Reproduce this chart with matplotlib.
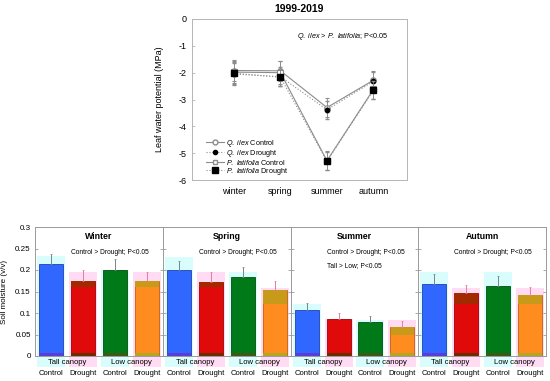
import matplotlib
matplotlib.use("Agg")
import matplotlib.pyplot as plt
from matplotlib.lines import Line2D
import numpy as np

plt.rcParams['font.family'] = ['Liberation Sans', 'DejaVu Sans']
plt.rcParams['mathtext.fontset'] = 'custom'
plt.rcParams['mathtext.rm'] = 'Liberation Sans'
plt.rcParams['mathtext.it'] = 'Liberation Sans:italic'

# ---------------- top panel data ----------------
seasons_top = ["winter", "spring", "summer", "autumn"]
qi_control = [-1.92, -1.93, -3.30, -2.28]
qi_drought = [-2.05, -2.15, -3.38, -2.32]
pl_control = [-1.98, -2.00, -5.28, -2.62]
pl_drought = [-2.02, -2.17, -5.30, -2.65]
err_qi_c = [0.38, 0.38, 0.35, 0.35]
err_qi_d = [0.40, 0.35, 0.33, 0.33]
err_pl_c = [0.42, 0.42, 0.35, 0.35]
err_pl_d = [0.40, 0.32, 0.33, 0.33]

# ---------------- bottom panel data ----------------
panel_titles = ["Winter", "Spring", "Summer", "Autumn"]
group_labels = ["Tall canopy", "Low canopy"]
bar_labels = ["Control", "Drought", "Control", "Drought"]
moist_winter = [0.213, 0.175, 0.200, 0.174]
moist_spring = [0.199, 0.172, 0.183, 0.153]
moist_summer = [0.107, 0.085, 0.079, 0.068]
moist_autumn = [0.168, 0.146, 0.163, 0.142]
err_winter = [0.024, 0.024, 0.025, 0.021]
err_spring = [0.022, 0.023, 0.024, 0.022]
err_summer = [0.017, 0.016, 0.014, 0.014]
err_autumn = [0.022, 0.019, 0.022, 0.019]
band_winter = [None, 0.160, None, 0.160]
band_spring = [None, 0.160, None, 0.122]
band_summer = [None, None, None, 0.048]
band_autumn = [None, 0.121, None, 0.121]
glow_winter = [0.233, 0.196, 0.200, 0.196]
glow_spring = [0.231, 0.196, 0.196, 0.157]
glow_summer = [0.120, 0.085, 0.083, 0.083]
glow_autumn = [0.195, 0.157, 0.195, 0.157]
stats_lines = [["Control > Drought; P<0.05"],
               ["Control > Drought; P<0.05"],
               ["Control > Drought; P<0.05", "Tall > Low; P<0.05"],
               ["Control > Drought; P<0.05"]]

moist = [moist_winter, moist_spring, moist_summer, moist_autumn]
errs = [err_winter, err_spring, err_summer, err_autumn]
bands = [band_winter, band_spring, band_summer, band_autumn]
glows = [glow_winter, glow_spring, glow_summer, glow_autumn]

fig = plt.figure(figsize=(5.5, 3.81), dpi=100)
W, H = 550, 381

def ax_at(l, t, r, b):
    return fig.add_axes([l / W, 1 - b / H, (r - l) / W, (b - t) / H])

# ---------------- top chart ----------------
ax = ax_at(192, 19, 407, 180)
x = np.array([1, 2, 3, 4])
gray = '#8c8c8c'
ax.errorbar(x, qi_control, yerr=err_qi_c, color=gray, lw=0.8, ls='-', marker='o', ms=4,
            mfc='white', mec=gray, mew=0.8, capsize=1.5, elinewidth=0.6, zorder=3)
ax.errorbar(x, qi_drought, yerr=err_qi_d, color=gray, lw=0.8, ls=':', marker='o', ms=3.2,
            mfc='black', mec='black', capsize=1.5, elinewidth=0.6, zorder=4)
ax.errorbar(x, pl_control, yerr=err_pl_c, color=gray, lw=0.8, ls='-', marker='s', ms=4,
            mfc='white', mec=gray, mew=0.8, capsize=1.5, elinewidth=0.6, zorder=3)
ax.errorbar(x, pl_drought, yerr=err_pl_d, color=gray, lw=0.8, ls=':', marker='s', ms=4.5,
            mfc='black', mec='black', capsize=1.5, elinewidth=0.6, zorder=5)
ax.set_xlim(0.1, 4.72)
ax.set_ylim(-6, 0)
ax.set_yticks([0, -1, -2, -3, -4, -5, -6])
ax.set_yticklabels(["0", "-1", "-2", "-3", "-4", "-5", "-6"])
ax.set_xticks(x)
ax.set_xticklabels(seasons_top)
ax.tick_params(axis='x', length=0, pad=5, labelsize=6.5)
ax.tick_params(axis='y', direction='in', length=2.5, width=0.5, color='#aaaaaa',
               labelsize=6.5, pad=4)
for s in ax.spines.values():
    s.set_color('#b5b5b5')
    s.set_linewidth(0.7)
ax.set_ylabel("Leaf water potential (MPa)", fontsize=6.5, labelpad=10)
ax.set_title("1999-2019", fontsize=7.5, fontweight='bold', pad=5)
ax.text(0.49, 0.89, r"$\it{Q.\ ilex}$ > $\it{P.\ latifolia}$; P<0.05",
        transform=ax.transAxes, fontsize=5.2, ha='left', va='center')
handles = [
    Line2D([], [], color=gray, lw=0.8, ls='-', marker='o', ms=3.5, mfc='white', mec=gray),
    Line2D([], [], color=gray, lw=0.8, ls=':', marker='o', ms=3, mfc='black', mec='black'),
    Line2D([], [], color=gray, lw=0.8, ls='-', marker='s', ms=3.5, mfc='white', mec=gray),
    Line2D([], [], color=gray, lw=0.8, ls=':', marker='s', ms=4, mfc='black', mec='black'),
]
labels = [r"$\it{Q.\ ilex}$ Control", r"$\it{Q.\ ilex}$ Drought",
          r"$\it{P.\ latifolia}$ Control", r"$\it{P.\ latifolia}$ Drought"]
ax.legend(handles, labels, loc='upper left', bbox_to_anchor=(0.065, 0.262), frameon=False,
          fontsize=5.2, handlelength=2.5, handletextpad=0.3, borderpad=0, labelspacing=-0.15,
          borderaxespad=0)

# ---------------- bottom chart ----------------
main_cols = ['#3068ff', '#e00a0a', '#007a18', '#ff8c1e']
edge_cols = ['#2040b0', '#a00000', '#005010', '#c06010']
base_cols = ['#5a3cd8', '#6b2d00', '#3c5a14', '#b4a620']
band_cols = [None, '#a22a00', None, '#c89a1a']
glow_cols = ['#d9fdfd', '#ffdcf4', '#d9fdfd', '#ffdcf4']
err_cols = ['#708888', '#e87aa0', '#708888', '#e87aa0']

edges = [35, 163, 291, 418, 546]
xb = np.array([0.5, 1.5, 2.5, 3.5])
bw = 0.75
for i in range(4):
    a = ax_at(edges[i], 227, edges[i + 1], 356)
    a.set_xlim(0, 4)
    a.set_ylim(0, 0.3)
    vals = moist[i]
    for j in range(4):
        # glow box behind bar (extends into label row)
        a.bar(xb[j], glows[i][j] + 0.0256, bottom=-0.0256, width=0.88, color=glow_cols[j],
              zorder=1, clip_on=False, lw=0)
        a.bar(xb[j], vals[j], width=bw, color=main_cols[j], edgecolor=edge_cols[j],
              lw=0.6, zorder=2)
        a.bar(xb[j], 0.007, width=bw, color=base_cols[j], lw=0, zorder=3)
        if bands[i][j] is not None:
            a.bar(xb[j], vals[j] - bands[i][j], bottom=bands[i][j], width=bw - 0.02,
                  color=band_cols[j], lw=0, zorder=3)
        a.errorbar(xb[j], vals[j], yerr=[[0], [errs[i][j]]], color=err_cols[j], lw=0,
                   elinewidth=0.7, capsize=1, capthick=0.5, zorder=4)
    a.set_xticks([])
    a.set_yticks(np.arange(0, 0.301, 0.05))
    a.tick_params(axis='y', direction='in', length=2.5, width=0.5, color='#888888',
                  left=True, right=True, labelsize=5.8, pad=3)
    if i == 0:
        a.set_yticklabels(["0", "0.05", "0.1", "0.15", "0.2", "0.25", "0.3"])
        a.set_ylabel("Soil moisture (v/v)", fontsize=5.8, labelpad=5)
    else:
        a.set_yticklabels([])
    for s in a.spines.values():
        s.set_color('#9a9a9a')
        s.set_linewidth(0.7)
    a.text(0.5, 0.93, panel_titles[i], transform=a.transAxes, ha='center', va='center',
           fontsize=6.3, fontweight='bold')
    for k, line in enumerate(stats_lines[i]):
        a.text(0.28, 0.80 - k * 0.095, line, transform=a.transAxes, ha='left',
               va='center', fontsize=4.8)
    trans = a.get_xaxis_transform()
    a.text(1.0, -0.054, group_labels[0], transform=trans, ha='center', va='center',
           fontsize=5.5)
    a.text(3.0, -0.054, group_labels[1], transform=trans, ha='center', va='center',
           fontsize=5.5)
    for j in range(4):
        a.text(xb[j], -0.132, bar_labels[j], transform=trans, ha='center', va='center',
               fontsize=5.5)

fig.savefig("out.png", dpi=100)
